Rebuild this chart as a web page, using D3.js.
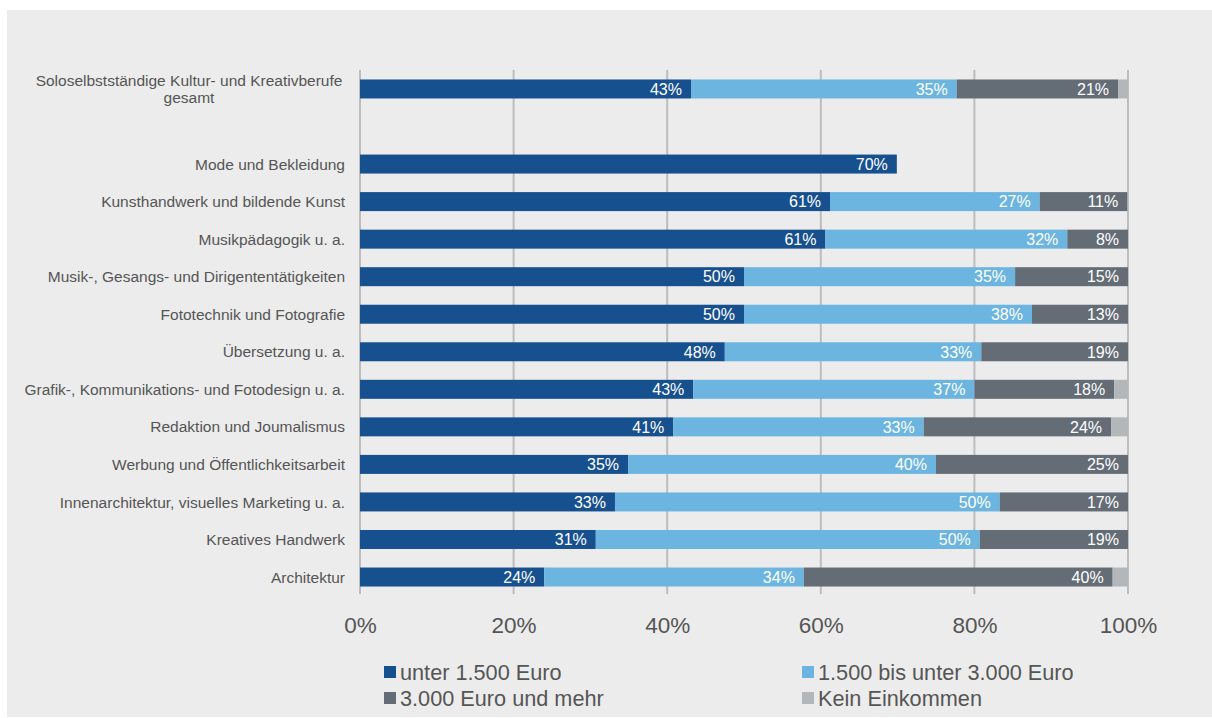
<!DOCTYPE html>
<html><head><meta charset="utf-8">
<script src="https://cdn.jsdelivr.net/npm/d3@7"></script>
<style>
html,body{margin:0;padding:0;background:#fff;}
svg{display:block;}
</style></head>
<body>
<svg id="c" width="1212" height="718"></svg>
<script>
const categories = [
  "Soloselbstständige Kultur- und Kreativberufe|gesamt",
  "",
  "Mode und Bekleidung",
  "Kunsthandwerk und bildende Kunst",
  "Musikpädagogik u. a.",
  "Musik-, Gesangs- und Dirigententätigkeiten",
  "Fototechnik und Fotografie",
  "Übersetzung u. a.",
  "Grafik-, Kommunikations- und Fotodesign u. a.",
  "Redaktion und Joumalismus",
  "Werbung und Öffentlichkeitsarbeit",
  "Innenarchitektur, visuelles Marketing u. a.",
  "Kreatives Handwerk",
  "Architektur"
];
const unter1500   = [43.1, 0, 69.9, 61.2, 60.6, 50.0, 50.0, 47.5, 43.4, 40.8, 34.9, 33.2, 30.7, 24.0];
const bis3000     = [34.6, 0, 0,    27.3, 31.5, 35.3, 37.5, 33.4, 36.6, 32.6, 40.1, 50.1, 50.0, 33.8];
const ab3000      = [21.0, 0, 0,    11.4,  7.9, 14.7, 12.5, 19.1, 18.2, 24.4, 25.0, 16.7, 19.3, 40.2];
const keinEink    = [ 1.3, 0, 0,     0,    0,    0,    0,    0,    1.8,  2.2,  0,    0,    0,    2.0];
const seriesNames = ["unter 1.500 Euro", "1.500 bis unter 3.000 Euro", "3.000 Euro und mehr", "Kein Einkommen"];
const seriesColors = ["#17508f", "#6cb5e1", "#646c76", "#b4b7ba"];
const labelled = [true, true, true, false];
const tickValues = [0, 20, 40, 60, 80, 100];

const seriesData = [unter1500, bis3000, ab3000, keinEink];
const svg = d3.select("#c");
svg.append("rect").attr("x", 7).attr("y", 10).attr("width", 1205).attr("height", 707).attr("fill", "#ececec");

const x = d3.scaleLinear().domain([0, 100]).range([360, 1128]);
const y = d3.scaleBand().domain(d3.range(categories.length)).range([70.2, 595.8]).paddingInner(0.494).paddingOuter(0.247);

// gridlines
svg.append("g").selectAll("line").data(tickValues).join("line")
  .attr("x1", d => x(d)).attr("x2", d => x(d))
  .attr("y1", 70).attr("y2", 594)
  .attr("stroke", "#bdbdbd").attr("stroke-width", 2);

// stacked bars
const rows = categories.map((c, i) => ({i, vals: seriesData.map(s => s[i])}));
const segs = [];
rows.forEach(r => {
  let acc = 0;
  r.vals.forEach((v, k) => {
    if (v > 0) segs.push({i: r.i, k, x0: acc, x1: acc + v, v});
    acc += v;
  });
});
svg.append("g").selectAll("rect").data(segs).join("rect")
  .attr("x", d => x(d.x0)).attr("width", d => x(d.x1) - x(d.x0))
  .attr("y", d => y(d.i)).attr("height", y.bandwidth())
  .attr("fill", d => seriesColors[d.k]);

svg.append("g").selectAll("text").data(segs.filter(d => labelled[d.k])).join("text")
  .attr("x", d => x(d.x1) - 9).attr("y", d => y(d.i) + y.bandwidth() / 2)
  .attr("dy", "0.36em").attr("text-anchor", "end")
  .attr("font-family", "Liberation Sans, Arial, sans-serif").attr("font-size", 16)
  .attr("fill", "#ffffff")
  .text(d => Math.round(d.v) + "%");

// category labels
const cl = svg.append("g").attr("font-family", "Liberation Sans, Arial, sans-serif")
  .attr("font-size", 15.5).attr("fill", "#555555").attr("text-anchor", "middle");
categories.forEach((c, i) => {
  if (!c) return;
  const parts = c.split("|");
  const t = cl.append("text").attr("y", y(i) + y.bandwidth() / 2 + (parts.length > 1 ? -1 : 0));
  if (parts.length === 1) {
    t.attr("x", 345).attr("text-anchor", "end").attr("dy", "0.36em").text(c);
  } else {
    t.attr("dy", "0.36em");
    parts.forEach((p, j) => t.append("tspan").attr("x", 189).attr("dy", j === 0 ? "-0.15em" : "1.15em").text(p));
  }
});

// x axis
const xAxis = d3.axisBottom(x).tickValues(tickValues).tickFormat(d => d + "%").tickSize(0).tickPadding(0);
const ax = svg.append("g").attr("transform", "translate(0,633)").call(xAxis);
ax.select(".domain").remove();
ax.selectAll("text").attr("font-family", "Liberation Sans, Arial, sans-serif").attr("font-size", 22.5)
  .attr("fill", "#555555").attr("dy", 0);

// legend
const legendPos = [[384, 672], [802, 672], [384, 698], [802, 698]];
const lg = svg.append("g").selectAll("g").data(seriesNames).join("g")
  .attr("transform", (d, k) => `translate(${legendPos[k][0]},${legendPos[k][1]})`);
lg.append("rect").attr("x", 0).attr("y", -6).attr("width", 12).attr("height", 12).attr("fill", (d, k) => seriesColors[k]);
lg.append("text").attr("x", 16).attr("dy", "0.36em")
  .attr("font-family", "Liberation Sans, Arial, sans-serif").attr("font-size", 21.7).attr("fill", "#555555")
  .text(d => d);
</script>
</body></html>
